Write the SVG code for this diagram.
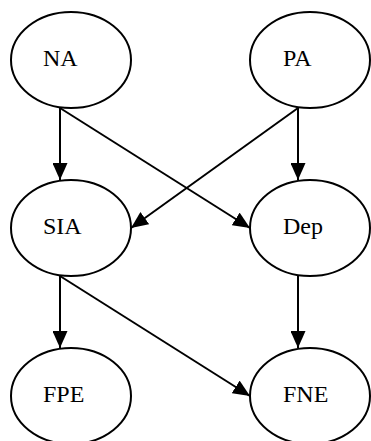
<svg xmlns="http://www.w3.org/2000/svg" width="371" height="441" viewBox="0 0 371 441">
<style>
.node ellipse{fill:#fff;stroke:#000;stroke-width:2}
.node text{fill:#000;font-family:'Liberation Serif','Times New Roman',Times,serif;font-size:24px}
.edges line{stroke:#000;stroke-width:2}
</style>
<defs>
<marker id="ah" markerUnits="userSpaceOnUse" markerWidth="17" markerHeight="15" refX="17" refY="7.5" orient="auto">
<path d="M0,0 L17,7.5 L0,15 Z" fill="#000"/>
</marker>
</defs>
<rect width="371" height="441" fill="#fff"/>
<g id="NA" class="node"><ellipse cx="71" cy="60" rx="60" ry="48"/><text x="43" y="66">NA</text></g>
<g id="PA" class="node"><ellipse cx="310" cy="60" rx="60" ry="48"/><text x="283" y="66">PA</text></g>
<g id="SIA" class="node"><ellipse cx="71" cy="228" rx="60" ry="48"/><text x="43" y="234">SIA</text></g>
<g id="Dep" class="node"><ellipse cx="310" cy="228" rx="60" ry="48"/><text x="283" y="234">Dep</text></g>
<g id="FPE" class="node"><ellipse cx="71" cy="396" rx="60" ry="48"/><text x="43" y="402">FPE</text></g>
<g id="FNE" class="node"><ellipse cx="310" cy="396" rx="60" ry="48"/><text x="283" y="402">FNE</text></g>
<g id="edges" class="edges">
<line x1="60" y1="108" x2="60" y2="180" marker-end="url(#ah)"/>
<line x1="60" y1="108" x2="250" y2="228" marker-end="url(#ah)"/>
<line x1="298" y1="108" x2="131" y2="228" marker-end="url(#ah)"/>
<line x1="298" y1="108" x2="298" y2="180" marker-end="url(#ah)"/>
<line x1="60" y1="276" x2="60" y2="348" marker-end="url(#ah)"/>
<line x1="60" y1="276" x2="250" y2="396" marker-end="url(#ah)"/>
<line x1="298" y1="276" x2="298" y2="348" marker-end="url(#ah)"/>
</g>
</svg>
